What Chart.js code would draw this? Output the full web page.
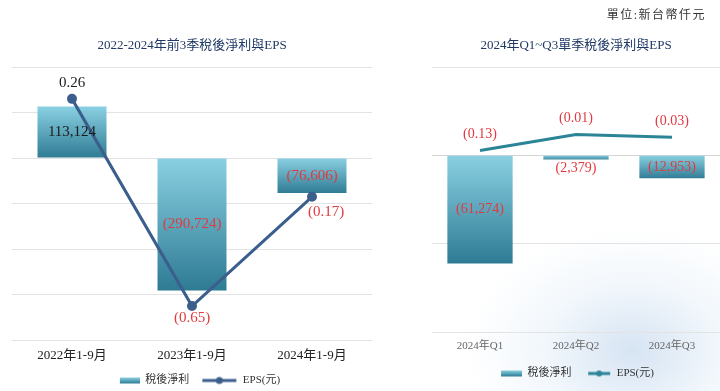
<!DOCTYPE html>
<html>
<head>
<meta charset="utf-8">
<script src="https://cdn.jsdelivr.net/npm/chart.js@4/dist/chart.umd.min.js"></script>
<style>
html, body { margin:0; padding:0; width:720px; height:391px; overflow:hidden; background:#fff; }
#wrap { position:relative; width:720px; height:391px; }
#swirl { position:absolute; left:470px; top:230px; width:250px; height:161px;
	background:radial-gradient(ellipse at 65% 75%, rgba(165,195,228,0.45) 0%, rgba(205,225,243,0.25) 40%, rgba(255,255,255,0) 72%); }
#leftChart { position:absolute; left:0; top:0; }
#rightChart { position:absolute; left:400px; top:0; }
#unit { position:absolute; right:14px; top:5px; font:12px 'Liberation Serif','Noto Sans CJK TC',serif; letter-spacing:1.5px; color:#333; }
</style>
</head>
<body>
<div id="wrap">
	<div id="swirl"></div>
	<canvas id="leftChart" width="390" height="396"></canvas>
	<canvas id="rightChart" width="320" height="389"></canvas>
	<div id="unit">單位:新台幣仟元</div>
</div>
<script>
// data
var periodLabels = ['2022年1-9月', '2023年1-9月', '2024年1-9月'];
var periodProfit = [113124, -290724, -76606];
var periodEps = [0.26, -0.65, -0.17];

var quarterLabels = ['2024年Q1', '2024年Q2', '2024年Q3'];
var quarterProfit = [-61274, -2379, -12953];
var quarterEps = [-0.13, -0.01, -0.03];

var seriesNames = ['稅後淨利', 'EPS(元)'];

var FONT = "'Liberation Serif', 'Noto Sans CJK TC', serif";
var RED = '#e0393f';

//function's start
function fmtValue(v, dec){
	var s = Math.abs(v).toLocaleString('en-US', {minimumFractionDigits:dec, maximumFractionDigits:dec});
	return v < 0 ? '(' + s + ')' : s;
}

function barFill(context){
	var chart = context.chart;
	if(!chart.chartArea || context.raw === undefined){
		return '#5fb0c8';
	}
	var y = chart.scales.y;
	var y0 = y.getPixelForValue(0);
	var y1 = y.getPixelForValue(context.raw);
	var g = chart.ctx.createLinearGradient(0, Math.min(y0, y1), 0, Math.max(y0, y1) + 1);
	g.addColorStop(0, '#8ad0e2');
	g.addColorStop(1, '#2d7a93');
	return g;
}

function barIcon(w, bw){
	var c = document.createElement('canvas');
	c.width = w; c.height = 10;
	var g = c.getContext('2d');
	var gr = g.createLinearGradient(0, 2, 0, 8);
	gr.addColorStop(0, '#8ad0e2');
	gr.addColorStop(1, '#2d7a93');
	g.fillStyle = gr;
	g.fillRect(w - bw, 2, bw, 6);
	return c;
}

function lineIcon(w, color, lw, r){
	var c = document.createElement('canvas');
	c.width = w; c.height = 10;
	var g = c.getContext('2d');
	g.strokeStyle = color;
	g.lineWidth = lw;
	g.beginPath(); g.moveTo(1, 5); g.lineTo(w - 1, 5); g.stroke();
	g.fillStyle = color;
	g.beginPath(); g.arc(w / 2, 5, r, 0, Math.PI * 2); g.fill();
	return c;
}

var valueLabels = {
	id: 'valueLabels',
	afterDatasetsDraw: function(chart, args, opts){
		var ctx = chart.ctx;
		ctx.save();
		ctx.textAlign = 'center';
		ctx.textBaseline = 'middle';
		ctx.font = opts.size + 'px ' + FONT;
		chart.data.datasets.forEach(function(ds, i){
			var meta = chart.getDatasetMeta(i);
			meta.data.forEach(function(el, j){
				var v = ds.data[j];
				var x = el.x, y;
				if(ds.type == 'bar'){
					var h = Math.abs(el.base - el.y);
					y = h < 15 ? Math.max(el.base, el.y) + 9 : (el.base + el.y) / 2;
				}else{
					x += opts.epsOffset[j][0];
					y = el.y + opts.epsOffset[j][1];
				}
				ctx.fillStyle = v < 0 ? RED : '#1a1a1a';
				ctx.fillText(fmtValue(v, ds.type == 'bar' ? 0 : 2), x, y);
			});
		});
		ctx.restore();
	}
};

function makeChart(id, cfg){
	var icons = cfg.icons;
	return new Chart(document.getElementById(id), {
		data: {
			labels: cfg.labels,
			datasets: [
				{
					type: 'bar',
					label: seriesNames[0],
					data: cfg.profit,
					yAxisID: 'y',
					order: 1,
					backgroundColor: barFill,
					categoryPercentage: 1,
					barPercentage: cfg.barPct
				},
				{
					type: 'line',
					label: seriesNames[1],
					data: cfg.eps,
					yAxisID: 'y1',
					order: 0,
					borderColor: cfg.lineColor,
					backgroundColor: cfg.lineColor,
					borderWidth: 3,
					pointRadius: cfg.pointRadius,
					pointBackgroundColor: cfg.lineColor,
					tension: 0
				}
			]
		},
		options: {
			responsive: false,
			devicePixelRatio: 1,
			animation: false,
			layout: { padding: { left: cfg.padLeft, right: cfg.padRight, top: 0, bottom: 0 } },
			plugins: {
				title: {
					display: true,
					text: cfg.title,
					color: '#1f3864',
					font: { family: FONT, size: 13, weight: 'normal' },
					padding: { top: 38.2, bottom: 13.2 }
				},
				legend: {
					position: 'bottom',
					labels: {
						usePointStyle: true,
						pointStyleWidth: cfg.iconWidth,
						padding: cfg.legendPad,
						color: '#333',
						font: { family: FONT, size: 11 },
						sort: function(a, b){ return a.datasetIndex - b.datasetIndex; },
						generateLabels: function(chart){
							var items = Chart.defaults.plugins.legend.labels.generateLabels(chart);
							items.forEach(function(it){ it.pointStyle = icons[it.datasetIndex]; });
							return items;
						}
					}
				},
				tooltip: { enabled: false },
				valueLabels: { size: cfg.labelSize, epsOffset: cfg.epsOffset }
			},
			scales: {
				x: {
					grid: { display: false, drawTicks: false },
					border: { display: false },
					ticks: { color: cfg.tickColor, padding: cfg.tickPad, font: { family: FONT, size: cfg.tickSize } },
					afterFit: function(scale){ scale.height = cfg.tickSize * 1.2 + cfg.tickPad; }
				},
				y: {
					min: cfg.yMin, max: cfg.yMax,
					ticks: { display: false, stepSize: cfg.yStep },
					grid: {
						drawTicks: false,
						color: function(c){ return c.tick && c.tick.value === 0 ? cfg.zeroColor : '#e3e3e3'; }
					},
					border: { display: false }
				},
				y1: { display: false, min: cfg.epsMin, max: cfg.epsMax }
			}
		},
		plugins: [valueLabels]
	});
}
//function's end

makeChart('leftChart', {
	labels: periodLabels, profit: periodProfit, eps: periodEps,
	title: '2022-2024年前3季稅後淨利與EPS',
	padLeft: 12, padRight: 18,
	barPct: 0.575,
	lineColor: '#3b5e8c', pointRadius: 3.5,
	yMin: -400000, yMax: 200000, yStep: 100000, zeroColor: '#e3e3e3',
	epsMin: -0.8, epsMax: 0.4,
	tickColor: '#222', tickSize: 13, tickPad: 7.2,
	legendPad: 12, iconWidth: 36,
	icons: [barIcon(36, 20), lineIcon(36, '#3b5e8c', 3, 3.5)],
	labelSize: 15,
	epsOffset: [[0, -16], [0, 12], [14, 15]]
});

makeChart('rightChart', {
	labels: quarterLabels, profit: quarterProfit, eps: quarterEps,
	title: '2024年Q1~Q3單季稅後淨利與EPS',
	padLeft: 32, padRight: 0,
	barPct: 0.68,
	lineColor: '#2b8597', pointRadius: 0,
	yMin: -100000, yMax: 50000, yStep: 50000, zeroColor: '#d6d6d6',
	epsMin: -1.5, epsMax: 0.5,
	tickColor: '#666', tickSize: 11, tickPad: 7.2,
	legendPad: 15.6, iconWidth: 24,
	icons: [barIcon(24, 21), lineIcon(24, '#2b8597', 3, 3)],
	labelSize: 14,
	epsOffset: [[0, -16], [0, -16], [0, -16]]
});
</script>
</body>
</html>
